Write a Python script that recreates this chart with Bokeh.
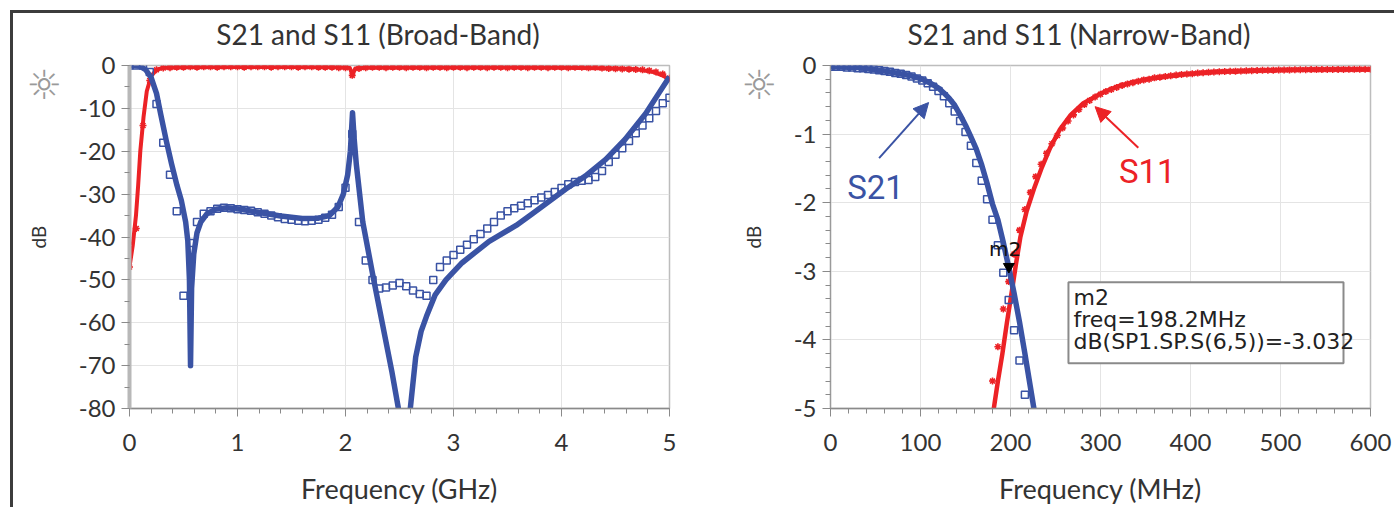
from bokeh.plotting import figure
from bokeh.layouts import row
from bokeh.models import (Range1d, SingleIntervalTicker, FixedTicker, Label, Arrow, NormalHead,
                          BoxAnnotation, CustomJSTickFormatter, LinearAxis)
from bokeh.embed import file_html
from bokeh.resources import INLINE

# ---------------- data : broad-band (GHz, dB) ----------------
bb_s21_line_f = [0.00, 0.05, 0.10, 0.15, 0.20, 0.25, 0.29, 0.34, 0.39, 0.44, 0.48, 0.52, 0.54,
                 0.555, 0.565, 0.575, 0.595, 0.625, 0.66, 0.72, 0.80, 0.90, 1.05, 1.20, 1.40,
                 1.60, 1.75, 1.85, 1.93, 1.98, 2.02, 2.045, 2.065, 2.08, 2.10, 2.16, 2.25, 2.34,
                 2.43, 2.49, 2.545, 2.60, 2.65, 2.70, 2.75, 2.83, 2.93, 3.08, 3.33, 3.58, 3.73,
                 4.04, 4.22, 4.41, 4.59, 4.78, 4.90, 5.00]
bb_s21_line_db = [0.0, 0.0, -0.2, -1.0, -2.8, -6.5, -11.5, -17.5, -23.0, -28.0, -31.5, -36.5, -41.0,
                  -50.0, -70.0, -52.0, -44.0, -39.0, -36.5, -34.5, -33.5, -33.2, -33.6, -34.3, -35.1,
                  -35.7, -35.6, -35.0, -33.0, -30.0, -25.5, -20.0, -11.0, -17.0, -23.0, -36.5, -48.5, -60.0,
                  -71.5, -80.0, -100.0, -80.0, -68.0, -62.0, -58.5, -53.5, -50.0, -46.0, -41.0, -37.3, -34.6,
                  -28.8, -25.8, -21.9, -17.2, -11.2, -6.5, -2.6]

bb_s11_line_f = [0.00, 0.03, 0.06, 0.08, 0.10, 0.13, 0.16, 0.20, 0.25, 0.30, 0.50, 1.00, 1.50,
                 1.90, 2.04, 2.065, 2.09, 2.20, 3.00, 4.00, 4.50, 4.70, 4.85, 4.95, 5.00]
bb_s11_line_db = [-47.0, -42.0, -35.0, -28.0, -20.0, -12.0, -6.0, -2.5, -1.0, -0.6, -0.4, -0.35, -0.35,
                  -0.4, -0.6, -2.2, -0.7, -0.5, -0.45, -0.5, -0.7, -0.9, -1.5, -2.5, -3.5]

bb_mk_f = [0.0, 0.0625, 0.125, 0.1875, 0.25, 0.3125, 0.375, 0.4375, 0.5, 0.5625, 0.625, 0.6875,
           0.75, 0.8125, 0.875, 0.9375, 1.0, 1.0625, 1.125, 1.1875, 1.25, 1.3125, 1.375, 1.4375,
           1.5, 1.5625, 1.625, 1.6875, 1.75, 1.8125, 1.875, 1.9375, 2.0, 2.0625, 2.125, 2.1875,
           2.25, 2.3125, 2.375, 2.4375, 2.5, 2.5625, 2.625, 2.6875, 2.75, 2.8125, 2.875, 2.9375,
           3.0, 3.0625, 3.125, 3.1875, 3.25, 3.3125, 3.375, 3.4375, 3.5, 3.5625, 3.625, 3.6875,
           3.75, 3.8125, 3.875, 3.9375, 4.0, 4.0625, 4.125, 4.1875, 4.25, 4.3125, 4.375, 4.4375,
           4.5, 4.5625, 4.625, 4.6875, 4.75, 4.8125, 4.875, 4.9375, 5.0]
bb_s21_mk_db = [0.0, 0.0, 0.0, -1.5, -9.0, -18.0, -25.5, -34.0, -53.7, -41.4, -36.5, -34.6,
                -34.0, -33.4, -33.2, -33.3, -33.5, -33.7, -33.9, -34.2, -34.6, -35.0, -35.4, -35.8,
                -36.0, -36.2, -36.3, -36.2, -36.0, -35.5, -34.8, -33.0, -28.5, -16.0, -36.5, -45.5,
                -50.0, -52.0, -51.8, -51.3, -50.7, -51.5, -52.5, -53.3, -53.7, -50.0, -47.0, -45.5,
                -44.2, -43.0, -41.8, -40.5, -39.3, -38.0, -36.5, -35.0, -34.0, -33.3, -32.7, -32.1,
                -31.4, -30.8, -30.2, -29.5, -28.6, -27.7, -27.2, -26.9, -26.7, -26.0, -24.6, -22.5,
                -20.8, -19.3, -17.6, -15.8, -14.0, -12.3, -10.6, -8.8, -7.5]
bb_s11_mk_db = [-47.0, -38.0, -14.0, -3.5, -1.0, -0.6, -0.5, -0.4, -0.4, -0.3, -0.4, -0.3,
                -0.3, -0.4, -0.3, -0.3, -0.3, -0.4, -0.3, -0.3, -0.3, -0.4, -0.3, -0.3,
                -0.3, -0.4, -0.3, -0.3, -0.4, -0.4, -0.4, -0.5, -0.5, -2.3, -0.7, -0.5,
                -0.4, -0.4, -0.5, -0.4, -0.4, -0.5, -0.4, -0.4, -0.5, -0.4, -0.4, -0.5,
                -0.4, -0.4, -0.5, -0.4, -0.4, -0.5, -0.4, -0.4, -0.5, -0.4, -0.4, -0.5,
                -0.4, -0.4, -0.5, -0.4, -0.4, -0.5, -0.4, -0.4, -0.5, -0.4, -0.6, -0.7,
                -0.75, -0.8, -0.85, -0.95, -1.0, -1.2, -1.5, -2.0, -3.0]

# ---------------- data : narrow-band (MHz, dB) ----------------
nb_s21_line_f = [0, 30, 60, 90, 100, 110, 120, 126, 132, 138, 144, 150, 156, 162, 168, 174, 180,
                 186, 192, 198, 204, 210, 216, 222, 226, 232]
nb_s21_line_db = [-0.02, -0.03, -0.08, -0.15, -0.19, -0.25, -0.33, -0.40, -0.48, -0.58, -0.72, -0.87,
                  -1.04, -1.22, -1.45, -1.72, -2.02, -2.25, -2.58, -2.94, -3.32, -3.74, -4.20, -4.68,
                  -5.0, -5.4]
nb_s11_line_f = [178, 182, 186, 191, 196, 202, 206, 211, 218, 226, 235, 244, 255, 267, 281, 300,
                 318, 337, 356, 390, 430, 470, 505, 550, 600]
nb_s11_line_db = [-5.3, -4.95, -4.6, -4.2, -3.75, -3.25, -2.9, -2.5, -2.12, -1.8, -1.48, -1.2,
                  -0.93, -0.72, -0.55, -0.41, -0.31, -0.24, -0.19, -0.13, -0.09, -0.075, -0.065,
                  -0.06, -0.06]

nb_s21_mk_f = [0, 6, 12, 18, 24, 30, 36, 42, 48, 54, 60, 66, 72, 78, 84, 90, 96, 102, 108, 114,
               120, 126, 132, 138, 144, 150, 156, 162, 168, 174, 180, 186, 192, 198, 204, 210, 216, 222]
nb_s21_mk_db = [-0.02, -0.02, -0.02, -0.03, -0.03, -0.04, -0.04, -0.05, -0.06, -0.07, -0.08, -0.09,
                -0.11, -0.12, -0.14, -0.16, -0.19, -0.22, -0.26, -0.31, -0.37, -0.45, -0.55, -0.67,
                -0.81, -0.97, -1.17, -1.42, -1.68, -1.95, -2.25, -2.62, -3.02, -3.42, -3.86, -4.3,
                -4.8, -5.3]
nb_s11_mk_f = [180, 186, 192, 198, 204, 210, 216, 222, 228, 234, 240, 246, 252, 258, 264, 270,
               276, 282, 288, 294, 300, 306, 312, 318, 324, 330, 336, 342, 348, 354, 360, 366,
               372, 378, 384, 390, 396, 402, 408, 414, 420, 426, 432, 438, 444, 450, 456, 462,
               468, 474, 480, 486, 492, 498, 504, 510, 516, 522, 528, 534, 540, 546, 552, 558,
               564, 570, 576, 582, 588, 594, 600]
nb_s11_mk_db = [-4.6, -4.1, -3.55, -3.15, -2.75, -2.4, -2.1, -1.85, -1.62, -1.44, -1.28, -1.14,
                -1.02, -0.91, -0.81, -0.72, -0.64, -0.57, -0.51, -0.46, -0.42, -0.38, -0.35, -0.32,
                -0.29, -0.27, -0.25, -0.23, -0.21, -0.20, -0.18, -0.17, -0.16, -0.15, -0.14, -0.13,
                -0.125, -0.12, -0.11, -0.105, -0.10, -0.095, -0.09, -0.088, -0.085, -0.082, -0.08,
                -0.078, -0.075, -0.073, -0.07, -0.07, -0.068, -0.066, -0.065, -0.064, -0.063, -0.062,
                -0.061, -0.06, -0.06, -0.06, -0.058, -0.058, -0.057, -0.057, -0.056, -0.056, -0.055,
                -0.055, -0.055]

marker_name = "m2"
marker_freq_mhz = 198.2
marker_db = -3.032
marker_lines = ["m2", "freq=198.2MHz", "dB(SP1.SP.S(6,5))=-3.032"]
titles = ["S21 and S11 (Broad-Band)", "S21 and S11 (Narrow-Band)"]

BLUE = "#3a53a4"
RED = "#ec2226"
TXT = "#333333"
FONT = "Lato"
NBSP = "\u00a0"
SUN = NBSP * 24 + "\u263c"


def style(p, xi, xm, yi, ym, yaxis_w, yaxis_c, title_text):
    p.xaxis.ticker = SingleIntervalTicker(interval=xi, num_minor_ticks=xm)
    p.yaxis.ticker = SingleIntervalTicker(interval=yi, num_minor_ticks=ym)
    p.yaxis.formatter = CustomJSTickFormatter(code="return String(tick);")
    p.grid.grid_line_color = "#e4e4e4"
    p.grid.grid_line_width = 1
    p.outline_line_color = "#bdbdbd"
    p.outline_line_width = 1.5
    for ax in (p.xaxis[0], p.yaxis[0]):
        ax.major_tick_in = 0
        ax.major_tick_out = 8
        ax.minor_tick_in = 0
        ax.minor_tick_out = 5
        ax.major_tick_line_color = "#8a8a8a"
        ax.minor_tick_line_color = "#8a8a8a"
        ax.major_label_text_font = FONT
        ax.major_label_text_font_size = "24px"
        ax.major_label_text_color = TXT
        ax.axis_label_text_font = FONT
        ax.axis_label_text_font_style = "normal"
        ax.axis_label_text_color = TXT
    p.xaxis.axis_label_text_font_size = "27px"
    p.yaxis.axis_label_text_font_size = "19px"
    p.xaxis.axis_line_color = "#8a8a8a"
    p.xaxis.axis_line_width = 1.5
    p.xaxis.major_label_standoff = 17
    p.xaxis.axis_label_standoff = 18
    p.yaxis.axis_line_color = yaxis_c
    p.yaxis.axis_line_width = yaxis_w
    p.yaxis.major_label_standoff = 6
    p.yaxis.axis_label_standoff = 26
    # title drawn as the label of a tick-less axis above the frame
    top = LinearAxis(ticker=FixedTicker(ticks=[]), axis_line_color=None,
                     major_tick_line_color=None, minor_tick_line_color=None,
                     major_label_text_font_size="0px", axis_label=title_text + NBSP * 6,
                     axis_label_text_font=FONT, axis_label_text_font_size="28px",
                     axis_label_text_font_style="normal", axis_label_text_color=TXT,
                     axis_label_standoff=15)
    p.add_layout(top, "above")
    # sun icon, drawn as the label of an extra tick-less axis that overlaps the "dB" column
    sun = LinearAxis(ticker=FixedTicker(ticks=[]), axis_line_color=None,
                     major_tick_line_color=None, minor_tick_line_color=None,
                     major_label_text_font_size="0px", axis_label=SUN,
                     axis_label_text_font="DejaVu Sans", axis_label_text_font_size="40px",
                     axis_label_text_color="#9a9a9a", axis_label_standoff=-44)
    p.add_layout(sun, "left")


# ---------------- left : broad-band ----------------
p1 = figure(width=687, height=494, output_backend="svg", toolbar_location=None,
            x_range=Range1d(0, 5), y_range=Range1d(-80, 0),
            x_axis_label="Frequency (GHz)", y_axis_label="dB",
            min_border_left=116, min_border_right=31, min_border_top=51, min_border_bottom=97)
style(p1, 1, 5, 10, 2, 4, "#b8b8b8", titles[0])
p1.line(bb_s11_line_f, bb_s11_line_db, line_width=4, color=RED, line_join="round")
p1.scatter(bb_mk_f, bb_s11_mk_db, marker="asterisk", size=7, line_width=1.6, color=RED)
p1.line(bb_s21_line_f, bb_s21_line_db, line_width=5.5, color=BLUE, line_join="round")
p1.scatter(bb_mk_f, bb_s21_mk_db, marker="square", size=7, line_width=1.5, line_color=BLUE,
           fill_color=None)

# ---------------- right : narrow-band ----------------
p2 = figure(width=694, height=494, output_backend="svg", toolbar_location=None,
            x_range=Range1d(0, 600), y_range=Range1d(-5, 0),
            x_axis_label="Frequency (MHz)", y_axis_label="dB",
            min_border_left=130, min_border_right=24, min_border_top=51, min_border_bottom=97)
style(p2, 100, 5, 1, 5, 1.2, "#9a9a9a", titles[1])
p2.line(nb_s11_line_f, nb_s11_line_db, line_width=4.5, color=RED, line_join="round")
p2.scatter(nb_s11_mk_f, nb_s11_mk_db, marker="asterisk", size=7, line_width=1.6, color=RED)
p2.line(nb_s21_line_f, nb_s21_line_db, line_width=5.5, color=BLUE, line_join="round")
p2.scatter(nb_s21_mk_f, nb_s21_mk_db, marker="square", size=7, line_width=1.5, line_color=BLUE,
           fill_color=None)

# series labels with arrows
p2.add_layout(Label(x=50, y=-1.78, text="S21", text_font="Roboto", text_font_size="33px",
                    text_color=BLUE, text_align="center", text_baseline="middle"))
p2.add_layout(Label(x=352, y=-1.55, text="S11", text_font="Roboto", text_font_size="33px",
                    text_color=RED, text_align="center", text_baseline="middle"))
p2.add_layout(Arrow(x_start=54, y_start=-1.35, x_end=109, y_end=-0.54, line_color=BLUE, line_width=2,
                    end=NormalHead(size=15, fill_color=BLUE, line_color=BLUE)))
p2.add_layout(Arrow(x_start=342, y_start=-1.2, x_end=294, y_end=-0.6, line_color=RED, line_width=2,
                    end=NormalHead(size=15, fill_color=RED, line_color=RED)))

# marker m2
p2.scatter([marker_freq_mhz], [marker_db + 0.1], marker="inverted_triangle", size=11, color="black")
p2.add_layout(Label(x=194, y=-2.68, text=marker_name, text_font="DejaVu Sans",
                    text_font_size="20px", text_color="#111111", text_align="center",
                    text_baseline="middle"))
p2.add_layout(BoxAnnotation(left=264.4, right=570, top=-3.16, bottom=-4.34, fill_color="white",
                            fill_alpha=1.0, line_color="#8a8a8a", line_width=2, line_alpha=1.0))
for i, t in enumerate(marker_lines):
    p2.add_layout(Label(x=270, y=-3.38 - 0.32 * i, text=t, text_font="DejaVu Sans",
                        text_font_size="22px", text_color="#222222", text_align="left",
                        text_baseline="middle"))

layout = row(p1, p2, margin=(10, 0, 0, 10),
             styles={"border-top": "3px solid #3c3c3c", "border-left": "3px solid #3c3c3c"})

open("out.html", "w").write(file_html(layout, INLINE))
